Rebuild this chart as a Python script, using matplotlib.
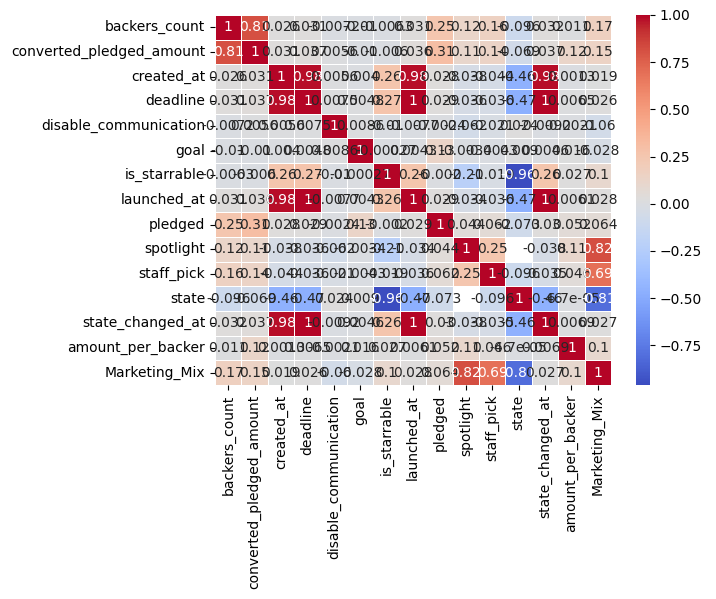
import numpy as np
import pandas as pd
import matplotlib
matplotlib.use("Agg")
import matplotlib.pyplot as plt
import seaborn as sns

# column names of the correlation matrix
cols = ["backers_count", "converted_pledged_amount", "created_at", "deadline",
        "disable_communication", "goal", "is_starrable", "launched_at", "pledged",
        "spotlight", "staff_pick", "state", "state_changed_at", "amount_per_backer",
        "Marketing_Mix"]

nan = np.nan
# correlation values (row by row)
backers_count = [1, 0.81, 0.026, 0.031, -0.0072, -0.01, -0.0063, 0.031, 0.25, 0.12, 0.16, -0.096, 0.032, 0.011, 0.17]
converted_pledged = [0.81, 1, 0.031, 0.037, 0.0056, -0.01, -0.006, 0.036, 0.31, 0.11, 0.14, -0.069, 0.037, 0.12, 0.15]
created_at = [0.026, 0.031, 1, 0.98, 0.0056, 0.004, 0.26, 0.98, 0.028, -0.038, -0.044, -0.46, 0.98, 0.0013, 0.019]
deadline = [0.031, 0.037, 0.98, 1, 0.0075, 0.0048, 0.27, 1, 0.029, -0.036, -0.036, -0.47, 1, 0.0065, 0.026]
disable_comm = [-0.0072, 0.0056, 0.0056, 0.0075, 1, 0.0086, -0.01, -0.0077, -0.0024, -0.062, -0.021, 0.024, -0.0092, -0.0021, -0.06]
goal = [-0.01, -0.01, 0.004, 0.0048, 0.0086, 1, -0.00027, 0.0043, 0.13, -0.0034, -0.0043, 0.009, 0.0046, 0.016, -0.028]
is_starrable = [-0.0063, -0.006, 0.26, 0.27, -0.01, -0.00027, 1, 0.26, -0.002, -0.21, -0.019, -0.96, 0.26, 0.027, 0.1]
launched_at = [0.031, 0.036, 0.98, 1, -0.0077, 0.0043, 0.26, 1, 0.029, -0.034, -0.036, -0.47, 1, 0.0061, 0.028]
pledged = [0.25, 0.31, 0.028, 0.029, -0.0024, 0.13, -0.002, 0.029, 1, 0.044, 0.062, -0.073, 0.03, 0.052, 0.064]
spotlight = [0.12, 0.11, -0.038, -0.036, -0.062, -0.0034, -0.21, -0.034, 0.044, 1, 0.25, nan, -0.038, 0.11, 0.82]
staff_pick = [0.16, 0.14, -0.044, -0.036, -0.021, -0.0043, -0.019, -0.036, 0.062, 0.25, 1, -0.096, -0.035, 0.046, 0.69]
state = [-0.096, -0.069, -0.46, -0.47, 0.024, 0.009, -0.96, -0.47, -0.073, nan, -0.096, 1, -0.46, -6.7e-05, -0.81]
state_changed_at = [0.032, 0.037, 0.98, 1, -0.0092, 0.0046, 0.26, 1, 0.03, -0.038, -0.035, -0.46, 1, 0.0069, 0.027]
amount_per_backer = [0.011, 0.12, 0.0013, 0.0065, -0.0021, 0.016, 0.027, 0.0061, 0.052, 0.11, 0.046, -6.7e-05, 0.0069, 1, 0.1]
marketing_mix = [0.17, 0.15, 0.019, 0.026, -0.06, -0.028, 0.1, 0.028, 0.064, 0.82, 0.69, -0.81, 0.027, 0.1, 1]

corr = pd.DataFrame([backers_count, converted_pledged, created_at, deadline, disable_comm,
                     goal, is_starrable, launched_at, pledged, spotlight, staff_pick,
                     state, state_changed_at, amount_per_backer, marketing_mix],
                    index=cols, columns=cols)

fig = plt.figure(figsize=(7.16, 5.99), dpi=100)
ax = fig.add_axes([0.3003, 0.3573, 0.5531, 0.6177])
cax = fig.add_axes([0.888, 0.3573, 0.0196, 0.6177])

sns.heatmap(corr, annot=True, cmap="coolwarm", linewidths=0.5, linecolor="white",
            ax=ax, cbar_ax=cax)

plt.savefig("out.png", dpi=100)
